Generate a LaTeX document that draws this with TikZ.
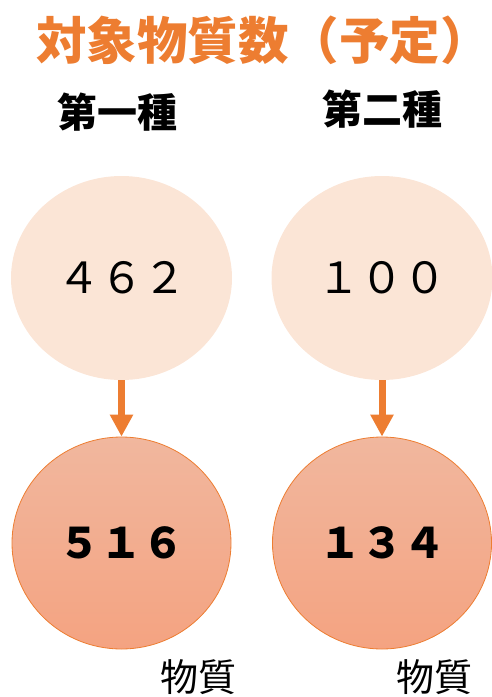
\documentclass[tikz,border=0pt]{standalone}
\usepackage{fontspec}
\setmainfont{Noto Sans CJK JP}
\usetikzlibrary{shapes.geometric,arrows.meta}
\definecolor{accent}{HTML}{ED7D31}
\definecolor{paleorange}{HTML}{FBE5D6}
\definecolor{gradtop}{HTML}{F1B79E}
\definecolor{gradbot}{HTML}{F4A381}
\tikzset{
  titletext/.style={text=accent, font=\fontsize{50.5}{50.5}\selectfont\bfseries, inner sep=0pt},
  headtext/.style={font=\fontsize{40}{40}\selectfont\bfseries, inner sep=0pt},
  topcircle/.style={ellipse, fill=paleorange, minimum width=221pt, minimum height=204pt, inner sep=0pt,
     font=\fontsize{43}{43}\selectfont},
  botcircle/.style={ellipse, draw=accent, line width=0.8pt, top color=gradtop, bottom color=gradbot,
     minimum width=219pt, minimum height=212pt, inner sep=0pt, font=\fontsize{42}{42}\selectfont\bfseries},
  flow/.style={draw=accent, line width=7pt, -{Triangle[width=22pt,length=22pt]}},
  unitlabel/.style={font=\fontsize{38}{38}\selectfont, inner sep=0pt, anchor=west}
}
\begin{document}
\begin{tikzpicture}[x=1pt,y=-1pt]
\useasboundingbox (0,0) rectangle (491,697);
\node[titletext, anchor=west] (title) at (36,40) {対象物質数（予定）};
\node[headtext] (h1) at (117,112) {第一種};
\node[headtext] (h2) at (382,109) {第二種};
\node[topcircle] (t1) at (121.5,278) {４６２};
\node[topcircle] (t2) at (382,278) {１００};
\node[botcircle] (b1) at (121.5,543) {５１６};
\node[botcircle] (b2) at (382,543) {１３４};
\draw[flow] (t1.south) -- (b1.north);
\draw[flow] (t2.south) -- (b2.north);
\node[unitlabel] (u1) at (160,677) {物質};
\node[unitlabel] (u2) at (396,677) {物質};
\end{tikzpicture}
\end{document}
